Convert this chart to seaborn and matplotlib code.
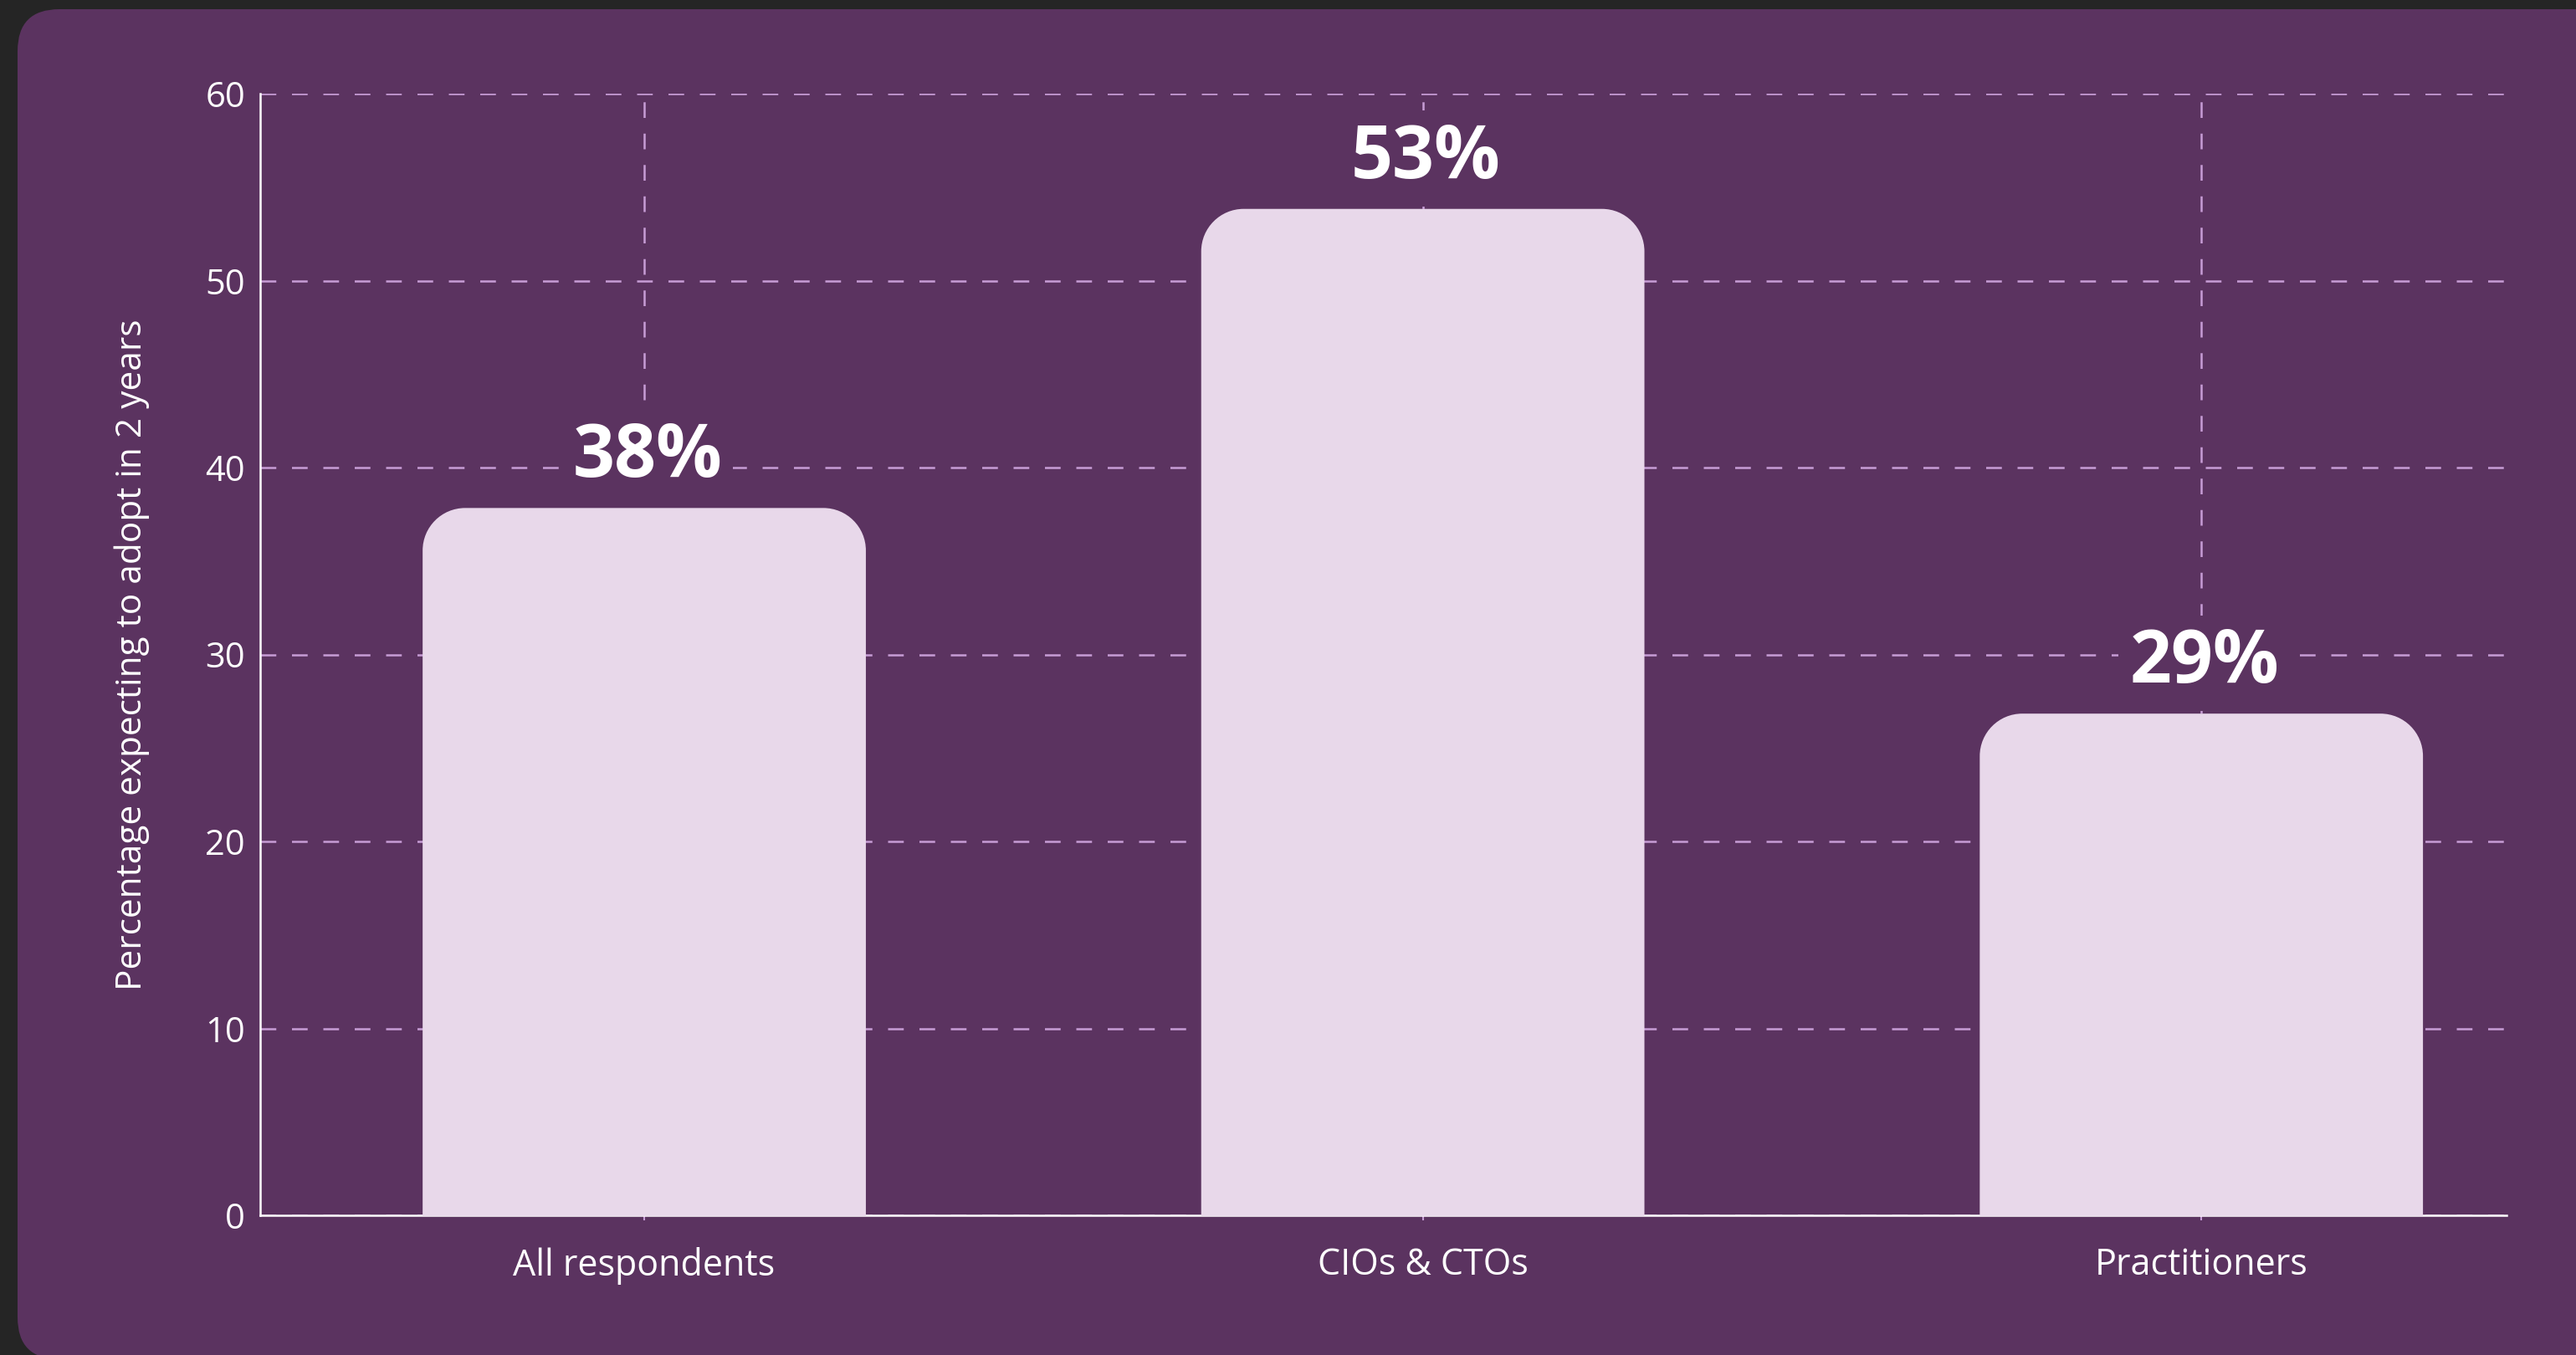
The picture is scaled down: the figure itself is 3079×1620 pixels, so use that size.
import numpy as np
import pandas as pd
import matplotlib
matplotlib.use("Agg")
import matplotlib.pyplot as plt
import seaborn as sns
from matplotlib.path import Path
from matplotlib.patches import PathPatch, FancyBboxPatch

# ---- data ----
categories = ["All respondents", "CIOs & CTOs", "Practitioners"]
values = [37.8, 53.8, 26.8]
value_labels = ["38%", "53%", "29%"]
y_ticks = [0, 10, 20, 30, 40, 50, 60]
y_label = "Percentage expecting to adopt in 2 years"

# ---- style ----
BG = "#252525"
PANEL = "#5b3360"
BAR = "#e8d8ea"
GRID = "#c79dd6"

plt.rcParams['font.family'] = ['Open Sans', 'DejaVu Sans']

W, H, DPI = 3079, 1620, 100
fig = plt.figure(figsize=(W / DPI, H / DPI), dpi=DPI, facecolor=BG)

# rounded background panel (pixel coordinates)
panel = FancyBboxPatch((21, -5), 3300, 1614, boxstyle="round,pad=0,rounding_size=50",
                       transform=None, facecolor=PANEL, edgecolor="none", zorder=-1)
fig.add_artist(panel)

ax_left, ax_right, ax_top, ax_bottom = 311, 2996, 112, 1453
ax = fig.add_axes([ax_left / W, 1 - ax_bottom / H, (ax_right - ax_left) / W, (ax_bottom - ax_top) / H])
ax.set_facecolor("none")

df = pd.DataFrame({"category": categories, "value": values})
sns.barplot(data=df, x="category", y="value", order=categories, color=BAR,
            saturation=1, width=0.5675, ax=ax)

xlim = (-0.4933, 2.392)
ylim = (0, 60)
ax.set_xlim(*xlim)
ax.set_ylim(*ylim)

# convert a 50 px corner radius into data units
r_px = 50
rx = r_px / ((ax_right - ax_left) / (xlim[1] - xlim[0]))
ry = r_px / ((ax_bottom - ax_top) / (ylim[1] - ylim[0]))
k = 0.5523

for p in list(ax.patches):
    x0 = p.get_x()
    w = p.get_width()
    h = p.get_height()
    x1 = x0 + w
    y0, y1 = 0, h
    p.remove()
    verts = [
        (x0, y0),
        (x0, y1 - ry),
        (x0, y1 - (1 - k) * ry), (x0 + (1 - k) * rx, y1), (x0 + rx, y1),
        (x1 - rx, y1),
        (x1 - (1 - k) * rx, y1), (x1, y1 - (1 - k) * ry), (x1, y1 - ry),
        (x1, y0),
        (x0, y0),
    ]
    codes = [Path.MOVETO, Path.LINETO,
             Path.CURVE4, Path.CURVE4, Path.CURVE4,
             Path.LINETO,
             Path.CURVE4, Path.CURVE4, Path.CURVE4,
             Path.LINETO, Path.CLOSEPOLY]
    ax.add_patch(PathPatch(Path(verts, codes), facecolor=BAR, edgecolor=BAR,
                           lw=1.2, zorder=3, clip_on=False))

for i, (v, lab) in enumerate(zip(values, value_labels)):
    ax.text(i + 0.004, v + 1.7, lab, ha="center", va="baseline", fontsize=63,
            fontweight="bold", color="white", zorder=2.8,
            bbox=dict(boxstyle="square,pad=0.15", fc=PANEL, ec="none"))

# axes styling
for s in ["top", "right"]:
    ax.spines[s].set_visible(False)
for s in ["left", "bottom"]:
    ax.spines[s].set_color("white")
    ax.spines[s].set_linewidth(1.8)

ax.set_yticks(y_ticks)
ax.tick_params(axis="y", length=0, pad=13, labelsize=30, labelcolor="white")
ax.tick_params(axis="x", length=4.3, width=1.5, color=GRID, pad=23,
               labelsize=31, labelcolor="white")
ax.set_xlabel("")
ax.set_ylabel(y_label, fontsize=30.5, color="white", labelpad=48)

ax.grid(True, color=GRID, lw=1.8, linestyle=(0, (7.5, 7.5)))
ax.set_axisbelow(True)

fig.savefig("out.png", dpi=DPI, facecolor=BG)
